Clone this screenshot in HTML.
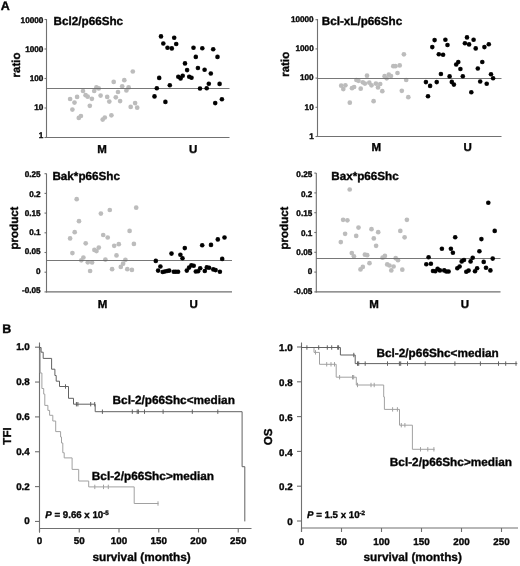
<!DOCTYPE html>
<html><head><meta charset="utf-8"><style>
html,body{margin:0;padding:0;background:#fff;}
body{width:520px;height:566px;overflow:hidden;}
svg{display:block;}
#w{width:520px;height:566px;will-change:transform;}
text{font-family:"Liberation Sans",sans-serif;font-weight:bold;fill:#000;stroke:#000;stroke-width:0.35px;text-rendering:geometricPrecision;}
</style></head><body><div id="w">
<svg width="520" height="566" viewBox="0 0 520 566">
<defs><filter id="bl" x="0" y="0" width="100%" height="100%" filterUnits="userSpaceOnUse"><feConvolveMatrix order="3" kernelMatrix="0.0000 0.0038 0.0000 0.0038 0.9847 0.0038 0.0000 0.0038 0.0000" divisor="1" edgeMode="duplicate" preserveAlpha="true"/></filter></defs>
<rect width="520" height="566" fill="#fff"/>
<g filter="url(#bl)">
<rect width="520" height="566" fill="#fff"/>
<text x="0.8" y="10" font-size="12.5" text-anchor="start" >A</text>
<line x1="46.5" y1="19" x2="46.5" y2="138.0" stroke="#6e6e6e" stroke-width="1.1" />
<line x1="46.0" y1="137.5" x2="229.5" y2="137.5" stroke="#6e6e6e" stroke-width="1.1" />
<line x1="44.5" y1="19.5" x2="46.5" y2="19.5" stroke="#6e6e6e" stroke-width="1.1" />
<text x="43.4" y="23.099999999999998" font-size="8.2" text-anchor="end" >10000</text>
<line x1="44.5" y1="49.0" x2="46.5" y2="49.0" stroke="#6e6e6e" stroke-width="1.1" />
<text x="43.4" y="51.9" font-size="8.2" text-anchor="end" >1000</text>
<line x1="44.5" y1="78.5" x2="46.5" y2="78.5" stroke="#6e6e6e" stroke-width="1.1" />
<text x="43.4" y="80.7" font-size="8.2" text-anchor="end" >100</text>
<line x1="44.5" y1="108.0" x2="46.5" y2="108.0" stroke="#6e6e6e" stroke-width="1.1" />
<text x="43.4" y="109.50000000000001" font-size="8.2" text-anchor="end" >10</text>
<line x1="44.5" y1="137.5" x2="46.5" y2="137.5" stroke="#6e6e6e" stroke-width="1.1" />
<text x="43.4" y="138.3" font-size="8.2" text-anchor="end" >1</text>
<text x="53.6" y="24.7" font-size="11.7" text-anchor="start" >Bcl2/p66Shc</text>
<text x="0" y="0" font-size="11.5" text-anchor="middle" transform="translate(19.9,65) rotate(-90)">ratio</text>
<text x="102.1" y="153.2" font-size="11.5" text-anchor="middle" >M</text>
<text x="193.1" y="153.2" font-size="11.5" text-anchor="middle" >U</text>
<circle cx="70.1" cy="99.0" r="2.35" fill="#bcbcbc"/>
<circle cx="72.4" cy="109.6" r="2.35" fill="#bcbcbc"/>
<circle cx="74.5" cy="102.6" r="2.35" fill="#bcbcbc"/>
<circle cx="77.1" cy="96.9" r="2.35" fill="#bcbcbc"/>
<circle cx="78.8" cy="117.9" r="2.35" fill="#bcbcbc"/>
<circle cx="80.9" cy="116.0" r="2.35" fill="#bcbcbc"/>
<circle cx="83.0" cy="91.0" r="2.35" fill="#bcbcbc"/>
<circle cx="85.6" cy="95.2" r="2.35" fill="#bcbcbc"/>
<circle cx="87.7" cy="96.7" r="2.35" fill="#bcbcbc"/>
<circle cx="89.8" cy="105.8" r="2.35" fill="#bcbcbc"/>
<circle cx="91.9" cy="98.8" r="2.35" fill="#bcbcbc"/>
<circle cx="94.2" cy="91.0" r="2.35" fill="#bcbcbc"/>
<circle cx="96.4" cy="87.4" r="2.35" fill="#bcbcbc"/>
<circle cx="98.7" cy="88.4" r="2.35" fill="#bcbcbc"/>
<circle cx="100.6" cy="95.6" r="2.35" fill="#bcbcbc"/>
<circle cx="102.7" cy="119.6" r="2.35" fill="#bcbcbc"/>
<circle cx="104.8" cy="117.5" r="2.35" fill="#bcbcbc"/>
<circle cx="107.2" cy="96.9" r="2.35" fill="#bcbcbc"/>
<circle cx="109.3" cy="101.6" r="2.35" fill="#bcbcbc"/>
<circle cx="111.4" cy="115.3" r="2.35" fill="#bcbcbc"/>
<circle cx="113.7" cy="81.9" r="2.35" fill="#bcbcbc"/>
<circle cx="115.8" cy="97.3" r="2.35" fill="#bcbcbc"/>
<circle cx="118.0" cy="92.0" r="2.35" fill="#bcbcbc"/>
<circle cx="120.1" cy="101.1" r="2.35" fill="#bcbcbc"/>
<circle cx="122.2" cy="86.3" r="2.35" fill="#bcbcbc"/>
<circle cx="124.3" cy="80.2" r="2.35" fill="#bcbcbc"/>
<circle cx="126.4" cy="90.5" r="2.35" fill="#bcbcbc"/>
<circle cx="128.6" cy="87.4" r="2.35" fill="#bcbcbc"/>
<circle cx="130.7" cy="106.9" r="2.35" fill="#bcbcbc"/>
<circle cx="132.8" cy="71.5" r="2.35" fill="#bcbcbc"/>
<circle cx="135.1" cy="103.1" r="2.35" fill="#bcbcbc"/>
<circle cx="137.2" cy="107.7" r="2.35" fill="#bcbcbc"/>
<line x1="46.5" y1="88.5" x2="229.5" y2="88.5" stroke="#666" stroke-width="0.9" />
<circle cx="154.5" cy="96.4" r="2.3" fill="#000"/>
<circle cx="156.8" cy="88.3" r="2.3" fill="#000"/>
<circle cx="159.2" cy="77.9" r="2.3" fill="#000"/>
<circle cx="161.0" cy="36.4" r="2.3" fill="#000"/>
<circle cx="163.3" cy="43.5" r="2.3" fill="#000"/>
<circle cx="165.4" cy="101.9" r="2.3" fill="#000"/>
<circle cx="167.5" cy="47.7" r="2.3" fill="#000"/>
<circle cx="169.8" cy="85.3" r="2.3" fill="#000"/>
<circle cx="171.8" cy="48.4" r="2.3" fill="#000"/>
<circle cx="174.2" cy="37.8" r="2.3" fill="#000"/>
<circle cx="176.2" cy="44.0" r="2.3" fill="#000"/>
<circle cx="178.3" cy="76.8" r="2.3" fill="#000"/>
<circle cx="180.6" cy="78.4" r="2.3" fill="#000"/>
<circle cx="182.7" cy="75.8" r="2.3" fill="#000"/>
<circle cx="185.0" cy="63.4" r="2.3" fill="#000"/>
<circle cx="187.1" cy="70.1" r="2.3" fill="#000"/>
<circle cx="189.2" cy="76.8" r="2.3" fill="#000"/>
<circle cx="191.5" cy="77.7" r="2.3" fill="#000"/>
<circle cx="193.5" cy="47.7" r="2.3" fill="#000"/>
<circle cx="195.8" cy="56.9" r="2.3" fill="#000"/>
<circle cx="197.9" cy="68.0" r="2.3" fill="#000"/>
<circle cx="200.0" cy="88.5" r="2.3" fill="#000"/>
<circle cx="202.3" cy="48.2" r="2.3" fill="#000"/>
<circle cx="204.6" cy="69.8" r="2.3" fill="#000"/>
<circle cx="206.7" cy="88.3" r="2.3" fill="#000"/>
<circle cx="208.8" cy="83.7" r="2.3" fill="#000"/>
<circle cx="210.8" cy="73.5" r="2.3" fill="#000"/>
<circle cx="213.2" cy="49.3" r="2.3" fill="#000"/>
<circle cx="215.2" cy="103.1" r="2.3" fill="#000"/>
<circle cx="217.5" cy="56.9" r="2.3" fill="#000"/>
<circle cx="219.6" cy="83.9" r="2.3" fill="#000"/>
<circle cx="221.9" cy="99.2" r="2.3" fill="#000"/>
<line x1="317.5" y1="19" x2="317.5" y2="137.0" stroke="#6e6e6e" stroke-width="1.1" />
<line x1="317.0" y1="136.5" x2="501.5" y2="136.5" stroke="#6e6e6e" stroke-width="1.1" />
<line x1="315.5" y1="19.700000000000003" x2="317.5" y2="19.700000000000003" stroke="#6e6e6e" stroke-width="1.1" />
<text x="313.7" y="21.9" font-size="8.2" text-anchor="end" >10000</text>
<line x1="315.5" y1="48.900000000000006" x2="317.5" y2="48.900000000000006" stroke="#6e6e6e" stroke-width="1.1" />
<text x="313.7" y="51.1" font-size="8.2" text-anchor="end" >1000</text>
<line x1="315.5" y1="78.1" x2="317.5" y2="78.1" stroke="#6e6e6e" stroke-width="1.1" />
<text x="313.7" y="80.30000000000001" font-size="8.2" text-anchor="end" >100</text>
<line x1="315.5" y1="107.3" x2="317.5" y2="107.3" stroke="#6e6e6e" stroke-width="1.1" />
<text x="313.7" y="109.5" font-size="8.2" text-anchor="end" >10</text>
<line x1="315.5" y1="136.5" x2="317.5" y2="136.5" stroke="#6e6e6e" stroke-width="1.1" />
<text x="313.7" y="138.70000000000002" font-size="8.2" text-anchor="end" >1</text>
<text x="321.7" y="24.9" font-size="11.7" text-anchor="start" >Bcl-xL/p66Shc</text>
<text x="0" y="0" font-size="11.5" text-anchor="middle" transform="translate(288.8,64.3) rotate(-90)">ratio</text>
<text x="376.4" y="151.1" font-size="11.5" text-anchor="middle" >M</text>
<text x="467.7" y="151.1" font-size="11.5" text-anchor="middle" >U</text>
<circle cx="341.2" cy="85.7" r="2.35" fill="#bcbcbc"/>
<circle cx="343.3" cy="89.1" r="2.35" fill="#bcbcbc"/>
<circle cx="345.4" cy="85.3" r="2.35" fill="#bcbcbc"/>
<circle cx="349.8" cy="102.7" r="2.35" fill="#bcbcbc"/>
<circle cx="352.0" cy="88.2" r="2.35" fill="#bcbcbc"/>
<circle cx="354.1" cy="87.0" r="2.35" fill="#bcbcbc"/>
<circle cx="356.4" cy="80.0" r="2.35" fill="#bcbcbc"/>
<circle cx="358.5" cy="80.8" r="2.35" fill="#bcbcbc"/>
<circle cx="360.7" cy="88.7" r="2.35" fill="#bcbcbc"/>
<circle cx="362.8" cy="82.3" r="2.35" fill="#bcbcbc"/>
<circle cx="364.9" cy="83.6" r="2.35" fill="#bcbcbc"/>
<circle cx="367.0" cy="75.7" r="2.35" fill="#bcbcbc"/>
<circle cx="369.3" cy="82.7" r="2.35" fill="#bcbcbc"/>
<circle cx="371.5" cy="85.3" r="2.35" fill="#bcbcbc"/>
<circle cx="373.6" cy="101.2" r="2.35" fill="#bcbcbc"/>
<circle cx="375.9" cy="83.6" r="2.35" fill="#bcbcbc"/>
<circle cx="378.0" cy="87.4" r="2.35" fill="#bcbcbc"/>
<circle cx="380.2" cy="84.0" r="2.35" fill="#bcbcbc"/>
<circle cx="382.3" cy="91.2" r="2.35" fill="#bcbcbc"/>
<circle cx="384.6" cy="76.2" r="2.35" fill="#bcbcbc"/>
<circle cx="386.7" cy="78.3" r="2.35" fill="#bcbcbc"/>
<circle cx="388.8" cy="74.7" r="2.35" fill="#bcbcbc"/>
<circle cx="391.0" cy="76.0" r="2.35" fill="#bcbcbc"/>
<circle cx="393.3" cy="66.2" r="2.35" fill="#bcbcbc"/>
<circle cx="395.4" cy="66.2" r="2.35" fill="#bcbcbc"/>
<circle cx="397.5" cy="73.0" r="2.35" fill="#bcbcbc"/>
<circle cx="399.7" cy="65.4" r="2.35" fill="#bcbcbc"/>
<circle cx="401.8" cy="90.8" r="2.35" fill="#bcbcbc"/>
<circle cx="403.9" cy="54.3" r="2.35" fill="#bcbcbc"/>
<circle cx="406.2" cy="80.0" r="2.35" fill="#bcbcbc"/>
<circle cx="408.3" cy="97.2" r="2.35" fill="#bcbcbc"/>
<line x1="317.5" y1="78.5" x2="501.5" y2="78.5" stroke="#666" stroke-width="0.9" />
<circle cx="425.9" cy="82.1" r="2.3" fill="#000"/>
<circle cx="428.0" cy="96.3" r="2.3" fill="#000"/>
<circle cx="430.1" cy="85.9" r="2.3" fill="#000"/>
<circle cx="432.3" cy="47.1" r="2.3" fill="#000"/>
<circle cx="434.6" cy="40.1" r="2.3" fill="#000"/>
<circle cx="436.7" cy="82.1" r="2.3" fill="#000"/>
<circle cx="438.8" cy="54.3" r="2.3" fill="#000"/>
<circle cx="440.9" cy="74.0" r="2.3" fill="#000"/>
<circle cx="443.1" cy="54.8" r="2.3" fill="#000"/>
<circle cx="445.4" cy="39.7" r="2.3" fill="#000"/>
<circle cx="447.5" cy="45.0" r="2.3" fill="#000"/>
<circle cx="449.6" cy="76.4" r="2.3" fill="#000"/>
<circle cx="451.8" cy="81.9" r="2.3" fill="#000"/>
<circle cx="453.9" cy="84.6" r="2.3" fill="#000"/>
<circle cx="456.2" cy="64.5" r="2.3" fill="#000"/>
<circle cx="458.3" cy="62.0" r="2.3" fill="#000"/>
<circle cx="460.4" cy="69.0" r="2.3" fill="#000"/>
<circle cx="462.8" cy="76.2" r="2.3" fill="#000"/>
<circle cx="464.9" cy="43.3" r="2.3" fill="#000"/>
<circle cx="467.0" cy="37.4" r="2.3" fill="#000"/>
<circle cx="469.1" cy="44.4" r="2.3" fill="#000"/>
<circle cx="471.3" cy="92.3" r="2.3" fill="#000"/>
<circle cx="473.6" cy="39.7" r="2.3" fill="#000"/>
<circle cx="475.7" cy="48.4" r="2.3" fill="#000"/>
<circle cx="477.8" cy="68.5" r="2.3" fill="#000"/>
<circle cx="480.2" cy="81.5" r="2.3" fill="#000"/>
<circle cx="482.3" cy="62.0" r="2.3" fill="#000"/>
<circle cx="484.4" cy="47.1" r="2.3" fill="#000"/>
<circle cx="486.7" cy="83.8" r="2.3" fill="#000"/>
<circle cx="488.8" cy="44.2" r="2.3" fill="#000"/>
<circle cx="491.0" cy="74.3" r="2.3" fill="#000"/>
<circle cx="493.1" cy="78.3" r="2.3" fill="#000"/>
<line x1="46.5" y1="173.5" x2="46.5" y2="292.4" stroke="#6e6e6e" stroke-width="1.1" />
<line x1="46.0" y1="291.9" x2="232" y2="291.9" stroke="#6e6e6e" stroke-width="1.1" />
<line x1="44.5" y1="173.7" x2="46.5" y2="173.7" stroke="#6e6e6e" stroke-width="1.1" />
<text x="40.6" y="177.3" font-size="8.2" text-anchor="end" >0.25</text>
<line x1="44.5" y1="193.39999999999998" x2="46.5" y2="193.39999999999998" stroke="#6e6e6e" stroke-width="1.1" />
<text x="40.6" y="196.55" font-size="8.2" text-anchor="end" >0.2</text>
<line x1="44.5" y1="213.09999999999997" x2="46.5" y2="213.09999999999997" stroke="#6e6e6e" stroke-width="1.1" />
<text x="40.6" y="215.8" font-size="8.2" text-anchor="end" >0.15</text>
<line x1="44.5" y1="232.79999999999998" x2="46.5" y2="232.79999999999998" stroke="#6e6e6e" stroke-width="1.1" />
<text x="40.6" y="235.05" font-size="8.2" text-anchor="end" >0.1</text>
<line x1="44.5" y1="252.49999999999997" x2="46.5" y2="252.49999999999997" stroke="#6e6e6e" stroke-width="1.1" />
<text x="40.6" y="254.3" font-size="8.2" text-anchor="end" >0.05</text>
<line x1="44.5" y1="272.2" x2="46.5" y2="272.2" stroke="#6e6e6e" stroke-width="1.1" />
<text x="40.6" y="273.54999999999995" font-size="8.2" text-anchor="end" >0</text>
<line x1="44.5" y1="291.9" x2="46.5" y2="291.9" stroke="#6e6e6e" stroke-width="1.1" />
<text x="40.6" y="292.79999999999995" font-size="8.2" text-anchor="end" >-0.05</text>
<text x="52.4" y="180.4" font-size="11.7" text-anchor="start" >Bak*p66Shc</text>
<text x="0" y="0" font-size="11.5" text-anchor="middle" transform="translate(17.6,228) rotate(-90)">product</text>
<text x="102.6" y="307.5" font-size="11.5" text-anchor="middle" >M</text>
<text x="193.7" y="307.5" font-size="11.5" text-anchor="middle" >U</text>
<circle cx="70.1" cy="238.4" r="2.35" fill="#bcbcbc"/>
<circle cx="72.4" cy="253.1" r="2.35" fill="#bcbcbc"/>
<circle cx="74.7" cy="232.2" r="2.35" fill="#bcbcbc"/>
<circle cx="76.7" cy="199.2" r="2.35" fill="#bcbcbc"/>
<circle cx="79.0" cy="221.2" r="2.35" fill="#bcbcbc"/>
<circle cx="81.3" cy="260.3" r="2.35" fill="#bcbcbc"/>
<circle cx="83.4" cy="257.5" r="2.35" fill="#bcbcbc"/>
<circle cx="85.7" cy="243.3" r="2.35" fill="#bcbcbc"/>
<circle cx="87.8" cy="262.3" r="2.35" fill="#bcbcbc"/>
<circle cx="90.1" cy="271.0" r="2.35" fill="#bcbcbc"/>
<circle cx="92.1" cy="262.5" r="2.35" fill="#bcbcbc"/>
<circle cx="94.4" cy="249.9" r="2.35" fill="#bcbcbc"/>
<circle cx="96.5" cy="251.1" r="2.35" fill="#bcbcbc"/>
<circle cx="98.8" cy="247.6" r="2.35" fill="#bcbcbc"/>
<circle cx="100.9" cy="213.6" r="2.35" fill="#bcbcbc"/>
<circle cx="103.2" cy="235.0" r="2.35" fill="#bcbcbc"/>
<circle cx="105.4" cy="259.6" r="2.35" fill="#bcbcbc"/>
<circle cx="107.7" cy="237.5" r="2.35" fill="#bcbcbc"/>
<circle cx="109.8" cy="210.0" r="2.35" fill="#bcbcbc"/>
<circle cx="112.1" cy="269.2" r="2.35" fill="#bcbcbc"/>
<circle cx="114.2" cy="245.8" r="2.35" fill="#bcbcbc"/>
<circle cx="116.5" cy="255.4" r="2.35" fill="#bcbcbc"/>
<circle cx="118.8" cy="244.2" r="2.35" fill="#bcbcbc"/>
<circle cx="120.8" cy="266.9" r="2.35" fill="#bcbcbc"/>
<circle cx="123.1" cy="263.7" r="2.35" fill="#bcbcbc"/>
<circle cx="125.4" cy="259.8" r="2.35" fill="#bcbcbc"/>
<circle cx="127.3" cy="269.2" r="2.35" fill="#bcbcbc"/>
<circle cx="129.6" cy="230.9" r="2.35" fill="#bcbcbc"/>
<circle cx="131.9" cy="269.9" r="2.35" fill="#bcbcbc"/>
<circle cx="133.9" cy="243.9" r="2.35" fill="#bcbcbc"/>
<circle cx="136.2" cy="207.7" r="2.35" fill="#bcbcbc"/>
<line x1="46.5" y1="260.5" x2="232" y2="260.5" stroke="#666" stroke-width="0.9" />
<circle cx="155.8" cy="260.9" r="2.3" fill="#000"/>
<circle cx="158.1" cy="270.6" r="2.3" fill="#000"/>
<circle cx="160.4" cy="266.5" r="2.3" fill="#000"/>
<circle cx="162.7" cy="272.0" r="2.3" fill="#000"/>
<circle cx="164.8" cy="271.5" r="2.3" fill="#000"/>
<circle cx="167.1" cy="271.0" r="2.3" fill="#000"/>
<circle cx="169.2" cy="270.6" r="2.3" fill="#000"/>
<circle cx="171.5" cy="253.6" r="2.3" fill="#000"/>
<circle cx="173.8" cy="271.7" r="2.3" fill="#000"/>
<circle cx="175.8" cy="271.7" r="2.3" fill="#000"/>
<circle cx="178.1" cy="271.7" r="2.3" fill="#000"/>
<circle cx="180.4" cy="254.7" r="2.3" fill="#000"/>
<circle cx="182.5" cy="258.2" r="2.3" fill="#000"/>
<circle cx="184.8" cy="248.1" r="2.3" fill="#000"/>
<circle cx="186.8" cy="270.6" r="2.3" fill="#000"/>
<circle cx="189.1" cy="267.6" r="2.3" fill="#000"/>
<circle cx="191.4" cy="265.3" r="2.3" fill="#000"/>
<circle cx="193.7" cy="265.8" r="2.3" fill="#000"/>
<circle cx="195.8" cy="271.5" r="2.3" fill="#000"/>
<circle cx="198.1" cy="271.3" r="2.3" fill="#000"/>
<circle cx="200.2" cy="268.3" r="2.3" fill="#000"/>
<circle cx="202.2" cy="245.3" r="2.3" fill="#000"/>
<circle cx="204.8" cy="271.0" r="2.3" fill="#000"/>
<circle cx="206.8" cy="267.4" r="2.3" fill="#000"/>
<circle cx="209.1" cy="267.8" r="2.3" fill="#000"/>
<circle cx="211.0" cy="244.9" r="2.3" fill="#000"/>
<circle cx="213.3" cy="269.4" r="2.3" fill="#000"/>
<circle cx="215.6" cy="270.1" r="2.3" fill="#000"/>
<circle cx="217.8" cy="239.4" r="2.3" fill="#000"/>
<circle cx="219.9" cy="271.7" r="2.3" fill="#000"/>
<circle cx="222.2" cy="258.9" r="2.3" fill="#000"/>
<circle cx="224.5" cy="237.5" r="2.3" fill="#000"/>
<line x1="316.3" y1="173" x2="316.3" y2="292.4" stroke="#6e6e6e" stroke-width="1.1" />
<line x1="315.8" y1="291.9" x2="500.5" y2="291.9" stroke="#6e6e6e" stroke-width="1.1" />
<line x1="314.3" y1="173.09999999999997" x2="316.3" y2="173.09999999999997" stroke="#6e6e6e" stroke-width="1.1" />
<text x="312.3" y="177.45000000000002" font-size="8.2" text-anchor="end" >0.25</text>
<line x1="314.3" y1="192.89999999999998" x2="316.3" y2="192.89999999999998" stroke="#6e6e6e" stroke-width="1.1" />
<text x="312.3" y="196.85000000000002" font-size="8.2" text-anchor="end" >0.2</text>
<line x1="314.3" y1="212.7" x2="316.3" y2="212.7" stroke="#6e6e6e" stroke-width="1.1" />
<text x="312.3" y="216.25000000000003" font-size="8.2" text-anchor="end" >0.15</text>
<line x1="314.3" y1="232.49999999999997" x2="316.3" y2="232.49999999999997" stroke="#6e6e6e" stroke-width="1.1" />
<text x="312.3" y="235.65" font-size="8.2" text-anchor="end" >0.1</text>
<line x1="314.3" y1="252.29999999999998" x2="316.3" y2="252.29999999999998" stroke="#6e6e6e" stroke-width="1.1" />
<text x="312.3" y="255.05" font-size="8.2" text-anchor="end" >0.05</text>
<line x1="314.3" y1="272.09999999999997" x2="316.3" y2="272.09999999999997" stroke="#6e6e6e" stroke-width="1.1" />
<text x="312.3" y="274.45" font-size="8.2" text-anchor="end" >0</text>
<line x1="314.3" y1="291.9" x2="316.3" y2="291.9" stroke="#6e6e6e" stroke-width="1.1" />
<text x="312.3" y="293.84999999999997" font-size="8.2" text-anchor="end" >-0.05</text>
<text x="331.2" y="179.9" font-size="11.7" text-anchor="start" >Bax*p66Shc</text>
<text x="0" y="0" font-size="11.5" text-anchor="middle" transform="translate(288.1,228) rotate(-90)">product</text>
<text x="374.1" y="307.5" font-size="11.5" text-anchor="middle" >M</text>
<text x="465" y="307.5" font-size="11.5" text-anchor="middle" >U</text>
<circle cx="340.8" cy="242.1" r="2.35" fill="#bcbcbc"/>
<circle cx="343.1" cy="219.8" r="2.35" fill="#bcbcbc"/>
<circle cx="345.1" cy="233.8" r="2.35" fill="#bcbcbc"/>
<circle cx="347.4" cy="220.3" r="2.35" fill="#bcbcbc"/>
<circle cx="349.7" cy="189.5" r="2.35" fill="#bcbcbc"/>
<circle cx="351.8" cy="253.1" r="2.35" fill="#bcbcbc"/>
<circle cx="353.9" cy="256.3" r="2.35" fill="#bcbcbc"/>
<circle cx="356.2" cy="235.9" r="2.35" fill="#bcbcbc"/>
<circle cx="358.5" cy="227.6" r="2.35" fill="#bcbcbc"/>
<circle cx="360.5" cy="269.4" r="2.35" fill="#bcbcbc"/>
<circle cx="362.8" cy="266.9" r="2.35" fill="#bcbcbc"/>
<circle cx="364.9" cy="254.7" r="2.35" fill="#bcbcbc"/>
<circle cx="367.2" cy="255.2" r="2.35" fill="#bcbcbc"/>
<circle cx="369.5" cy="263.2" r="2.35" fill="#bcbcbc"/>
<circle cx="371.5" cy="229.2" r="2.35" fill="#bcbcbc"/>
<circle cx="373.8" cy="238.4" r="2.35" fill="#bcbcbc"/>
<circle cx="376.1" cy="245.8" r="2.35" fill="#bcbcbc"/>
<circle cx="378.2" cy="232.2" r="2.35" fill="#bcbcbc"/>
<circle cx="382.6" cy="257.7" r="2.35" fill="#bcbcbc"/>
<circle cx="384.9" cy="255.9" r="2.35" fill="#bcbcbc"/>
<circle cx="387.2" cy="264.4" r="2.35" fill="#bcbcbc"/>
<circle cx="389.5" cy="265.5" r="2.35" fill="#bcbcbc"/>
<circle cx="391.3" cy="270.4" r="2.35" fill="#bcbcbc"/>
<circle cx="393.6" cy="266.5" r="2.35" fill="#bcbcbc"/>
<circle cx="395.7" cy="258.2" r="2.35" fill="#bcbcbc"/>
<circle cx="398.0" cy="260.2" r="2.35" fill="#bcbcbc"/>
<circle cx="400.3" cy="230.9" r="2.35" fill="#bcbcbc"/>
<circle cx="402.3" cy="269.7" r="2.35" fill="#bcbcbc"/>
<circle cx="404.6" cy="237.3" r="2.35" fill="#bcbcbc"/>
<circle cx="406.9" cy="219.8" r="2.35" fill="#bcbcbc"/>
<line x1="316.3" y1="258.5" x2="500.5" y2="258.5" stroke="#666" stroke-width="0.9" />
<circle cx="426.3" cy="264.2" r="2.3" fill="#000"/>
<circle cx="428.6" cy="257.3" r="2.3" fill="#000"/>
<circle cx="430.9" cy="263.7" r="2.3" fill="#000"/>
<circle cx="433.0" cy="271.0" r="2.3" fill="#000"/>
<circle cx="435.3" cy="271.3" r="2.3" fill="#000"/>
<circle cx="437.6" cy="268.7" r="2.3" fill="#000"/>
<circle cx="439.9" cy="270.4" r="2.3" fill="#000"/>
<circle cx="441.9" cy="248.8" r="2.3" fill="#000"/>
<circle cx="444.2" cy="270.4" r="2.3" fill="#000"/>
<circle cx="446.3" cy="271.5" r="2.3" fill="#000"/>
<circle cx="448.6" cy="271.5" r="2.3" fill="#000"/>
<circle cx="450.9" cy="248.8" r="2.3" fill="#000"/>
<circle cx="452.9" cy="252.7" r="2.3" fill="#000"/>
<circle cx="455.2" cy="237.3" r="2.3" fill="#000"/>
<circle cx="457.3" cy="268.3" r="2.3" fill="#000"/>
<circle cx="459.6" cy="266.5" r="2.3" fill="#000"/>
<circle cx="461.7" cy="261.4" r="2.3" fill="#000"/>
<circle cx="464.0" cy="260.0" r="2.3" fill="#000"/>
<circle cx="466.3" cy="271.7" r="2.3" fill="#000"/>
<circle cx="468.6" cy="270.6" r="2.3" fill="#000"/>
<circle cx="470.6" cy="261.4" r="2.3" fill="#000"/>
<circle cx="472.7" cy="257.7" r="2.3" fill="#000"/>
<circle cx="475.0" cy="271.3" r="2.3" fill="#000"/>
<circle cx="477.1" cy="268.3" r="2.3" fill="#000"/>
<circle cx="479.4" cy="251.3" r="2.3" fill="#000"/>
<circle cx="481.4" cy="239.1" r="2.3" fill="#000"/>
<circle cx="483.7" cy="261.9" r="2.3" fill="#000"/>
<circle cx="486.0" cy="267.8" r="2.3" fill="#000"/>
<circle cx="488.3" cy="202.8" r="2.3" fill="#000"/>
<circle cx="490.4" cy="270.4" r="2.3" fill="#000"/>
<circle cx="492.7" cy="258.6" r="2.3" fill="#000"/>
<circle cx="494.7" cy="230.9" r="2.3" fill="#000"/>
<text x="2.3" y="333.3" font-size="12.5" text-anchor="start" >B</text>
<line x1="39.5" y1="342.5" x2="39.5" y2="532.5" stroke="#6e6e6e" stroke-width="1.1" />
<line x1="39.5" y1="528.5" x2="251.5" y2="528.5" stroke="#6e6e6e" stroke-width="1.1" />
<line x1="35.0" y1="347.2" x2="39.5" y2="347.2" stroke="#6e6e6e" stroke-width="1.1" />
<text x="29.8" y="350.2" font-size="9.8" text-anchor="end" >1.0</text>
<line x1="35.0" y1="382.05" x2="39.5" y2="382.05" stroke="#6e6e6e" stroke-width="1.1" />
<text x="29.8" y="385.05" font-size="9.8" text-anchor="end" >0.8</text>
<line x1="35.0" y1="416.9" x2="39.5" y2="416.9" stroke="#6e6e6e" stroke-width="1.1" />
<text x="29.8" y="419.9" font-size="9.8" text-anchor="end" >0.6</text>
<line x1="35.0" y1="451.75" x2="39.5" y2="451.75" stroke="#6e6e6e" stroke-width="1.1" />
<text x="29.8" y="454.75" font-size="9.8" text-anchor="end" >0.4</text>
<line x1="35.0" y1="486.6" x2="39.5" y2="486.6" stroke="#6e6e6e" stroke-width="1.1" />
<text x="29.8" y="489.6" font-size="9.8" text-anchor="end" >0.2</text>
<line x1="35.0" y1="521.45" x2="39.5" y2="521.45" stroke="#6e6e6e" stroke-width="1.1" />
<text x="29.8" y="524.45" font-size="9.8" text-anchor="end" >0</text>
<line x1="39.5" y1="528.5" x2="39.5" y2="532.5" stroke="#6e6e6e" stroke-width="1.1" />
<text x="39.5" y="544.3" font-size="9.8" text-anchor="middle" >0</text>
<line x1="79.25" y1="528.5" x2="79.25" y2="532.5" stroke="#6e6e6e" stroke-width="1.1" />
<text x="79.25" y="544.3" font-size="9.8" text-anchor="middle" >50</text>
<line x1="119.0" y1="528.5" x2="119.0" y2="532.5" stroke="#6e6e6e" stroke-width="1.1" />
<text x="119.0" y="544.3" font-size="9.8" text-anchor="middle" >100</text>
<line x1="158.75" y1="528.5" x2="158.75" y2="532.5" stroke="#6e6e6e" stroke-width="1.1" />
<text x="158.75" y="544.3" font-size="9.8" text-anchor="middle" >150</text>
<line x1="198.5" y1="528.5" x2="198.5" y2="532.5" stroke="#6e6e6e" stroke-width="1.1" />
<text x="198.5" y="544.3" font-size="9.8" text-anchor="middle" >200</text>
<line x1="238.25" y1="528.5" x2="238.25" y2="532.5" stroke="#6e6e6e" stroke-width="1.1" />
<text x="238.25" y="544.3" font-size="9.8" text-anchor="middle" >250</text>
<text x="0" y="0" font-size="11.5" text-anchor="middle" transform="translate(10.6,436) rotate(-90)">TFI</text>
<text x="141.6" y="560.7" font-size="11.8" text-anchor="middle" >survival (months)</text>
<path d="M39.5,347.5 H40.2 V373 H41.9 V388.5 H43.7 V394.1 H44.8 V405.4 H47.9 V410.4 H49.6 V415.3 H52.8 V421 H55.7 V431.6 H60.6 V437 H61.5 V443 H62.8 V452.7 H64.2 V457.9 H72.1 V469.4 H78.7 V481 H88.7 V486.9 H134.2 V503.5 H158.5" fill="none" stroke="#a0a0a0" stroke-width="1"/>
<line x1="94.8" y1="484.7" x2="94.8" y2="489.09999999999997" stroke="#a0a0a0" stroke-width="1" />
<line x1="103.5" y1="484.7" x2="103.5" y2="489.09999999999997" stroke="#a0a0a0" stroke-width="1" />
<line x1="108.3" y1="484.7" x2="108.3" y2="489.09999999999997" stroke="#a0a0a0" stroke-width="1" />
<line x1="158" y1="501.3" x2="158" y2="505.7" stroke="#a0a0a0" stroke-width="1" />
<path d="M39.5,347.5 H41.1 V352.2 H43.2 V358.4 H51.6 V369.2 H54.9 V375.5 H56.2 V381.2 H59.5 V386.5 H68.5 V398.3 H73.5 V404.2 H95.2 V411.7 H242.1 V466.7 H244.8 V521.4" fill="none" stroke="#606060" stroke-width="1"/>
<line x1="39.5" y1="345.3" x2="39.5" y2="349.7" stroke="#606060" stroke-width="1" />
<line x1="65.5" y1="384.3" x2="65.5" y2="388.7" stroke="#606060" stroke-width="1" />
<line x1="76.4" y1="402.0" x2="76.4" y2="406.4" stroke="#606060" stroke-width="1" />
<line x1="77.9" y1="402.0" x2="77.9" y2="406.4" stroke="#606060" stroke-width="1" />
<line x1="90.7" y1="402.0" x2="90.7" y2="406.4" stroke="#606060" stroke-width="1" />
<line x1="94.7" y1="402.0" x2="94.7" y2="406.4" stroke="#606060" stroke-width="1" />
<line x1="102.4" y1="409.5" x2="102.4" y2="413.9" stroke="#606060" stroke-width="1" />
<line x1="132.3" y1="409.5" x2="132.3" y2="413.9" stroke="#606060" stroke-width="1" />
<line x1="137.2" y1="409.5" x2="137.2" y2="413.9" stroke="#606060" stroke-width="1" />
<line x1="138.4" y1="409.5" x2="138.4" y2="413.9" stroke="#606060" stroke-width="1" />
<line x1="144.5" y1="409.5" x2="144.5" y2="413.9" stroke="#606060" stroke-width="1" />
<line x1="163.1" y1="409.5" x2="163.1" y2="413.9" stroke="#606060" stroke-width="1" />
<line x1="192.3" y1="409.5" x2="192.3" y2="413.9" stroke="#606060" stroke-width="1" />
<line x1="217.8" y1="409.5" x2="217.8" y2="413.9" stroke="#606060" stroke-width="1" />
<text x="112.6" y="404.2" font-size="11.8" text-anchor="start" >Bcl-2/p66Shc&lt;median</text>
<text x="91.8" y="480.3" font-size="11.8" text-anchor="start" >Bcl-2/p66Shc&gt;median</text>
<text x="45.3" y="518" font-size="9.7"><tspan font-style="italic">P</tspan> = 9.66 x 10<tspan font-size="6.2" dy="-3.5">-5</tspan></text>
<line x1="301.5" y1="342.5" x2="301.5" y2="532.0" stroke="#6e6e6e" stroke-width="1.1" />
<line x1="301.5" y1="528.0" x2="518" y2="528.0" stroke="#6e6e6e" stroke-width="1.1" />
<line x1="297.0" y1="347.0" x2="301.5" y2="347.0" stroke="#6e6e6e" stroke-width="1.1" />
<text x="292.6" y="351.2" font-size="9.8" text-anchor="end" >1.0</text>
<line x1="297.0" y1="381.8" x2="301.5" y2="381.8" stroke="#6e6e6e" stroke-width="1.1" />
<text x="292.6" y="386.0" font-size="9.8" text-anchor="end" >0.8</text>
<line x1="297.0" y1="416.6" x2="301.5" y2="416.6" stroke="#6e6e6e" stroke-width="1.1" />
<text x="292.6" y="420.8" font-size="9.8" text-anchor="end" >0.6</text>
<line x1="297.0" y1="451.4" x2="301.5" y2="451.4" stroke="#6e6e6e" stroke-width="1.1" />
<text x="292.6" y="455.59999999999997" font-size="9.8" text-anchor="end" >0.4</text>
<line x1="297.0" y1="486.2" x2="301.5" y2="486.2" stroke="#6e6e6e" stroke-width="1.1" />
<text x="292.6" y="490.4" font-size="9.8" text-anchor="end" >0.2</text>
<line x1="297.0" y1="521.0" x2="301.5" y2="521.0" stroke="#6e6e6e" stroke-width="1.1" />
<text x="292.6" y="525.2" font-size="9.8" text-anchor="end" >0</text>
<line x1="301.5" y1="528.0" x2="301.5" y2="532.0" stroke="#6e6e6e" stroke-width="1.1" />
<text x="301.5" y="545.0" font-size="9.8" text-anchor="middle" >0</text>
<line x1="341.5" y1="528.0" x2="341.5" y2="532.0" stroke="#6e6e6e" stroke-width="1.1" />
<text x="341.5" y="545.0" font-size="9.8" text-anchor="middle" >50</text>
<line x1="381.5" y1="528.0" x2="381.5" y2="532.0" stroke="#6e6e6e" stroke-width="1.1" />
<text x="381.5" y="545.0" font-size="9.8" text-anchor="middle" >100</text>
<line x1="421.5" y1="528.0" x2="421.5" y2="532.0" stroke="#6e6e6e" stroke-width="1.1" />
<text x="421.5" y="545.0" font-size="9.8" text-anchor="middle" >150</text>
<line x1="461.5" y1="528.0" x2="461.5" y2="532.0" stroke="#6e6e6e" stroke-width="1.1" />
<text x="461.5" y="545.0" font-size="9.8" text-anchor="middle" >200</text>
<line x1="501.5" y1="528.0" x2="501.5" y2="532.0" stroke="#6e6e6e" stroke-width="1.1" />
<text x="501.5" y="545.0" font-size="9.8" text-anchor="middle" >250</text>
<text x="0" y="0" font-size="11.5" text-anchor="middle" transform="translate(272.4,437) rotate(-90)">OS</text>
<text x="412.7" y="560.7" font-size="11.8" text-anchor="middle" >survival (months)</text>
<path d="M301.5,347.5 H314 V352.4 H319.5 V364.3 H336.2 V377.2 H356.3 V385 H383.7 V396.9 H384.4 V409.4 H399.5 V425.2 H412.4 V449.3 H434.6" fill="none" stroke="#a0a0a0" stroke-width="1"/>
<line x1="315.5" y1="350.2" x2="315.5" y2="354.59999999999997" stroke="#a0a0a0" stroke-width="1" />
<line x1="326.7" y1="362.1" x2="326.7" y2="366.5" stroke="#a0a0a0" stroke-width="1" />
<line x1="331" y1="362.1" x2="331" y2="366.5" stroke="#a0a0a0" stroke-width="1" />
<line x1="334.5" y1="362.1" x2="334.5" y2="366.5" stroke="#a0a0a0" stroke-width="1" />
<line x1="339.6" y1="375.0" x2="339.6" y2="379.4" stroke="#a0a0a0" stroke-width="1" />
<line x1="352.5" y1="375.0" x2="352.5" y2="379.4" stroke="#a0a0a0" stroke-width="1" />
<line x1="353.7" y1="375.0" x2="353.7" y2="379.4" stroke="#a0a0a0" stroke-width="1" />
<line x1="357.5" y1="382.8" x2="357.5" y2="387.2" stroke="#a0a0a0" stroke-width="1" />
<line x1="371" y1="382.8" x2="371" y2="387.2" stroke="#a0a0a0" stroke-width="1" />
<line x1="374.2" y1="382.8" x2="374.2" y2="387.2" stroke="#a0a0a0" stroke-width="1" />
<line x1="392.6" y1="407.2" x2="392.6" y2="411.59999999999997" stroke="#a0a0a0" stroke-width="1" />
<line x1="397.4" y1="407.2" x2="397.4" y2="411.59999999999997" stroke="#a0a0a0" stroke-width="1" />
<line x1="401.3" y1="423.0" x2="401.3" y2="427.4" stroke="#a0a0a0" stroke-width="1" />
<line x1="404.9" y1="423.0" x2="404.9" y2="427.4" stroke="#a0a0a0" stroke-width="1" />
<line x1="420.5" y1="447.1" x2="420.5" y2="451.5" stroke="#a0a0a0" stroke-width="1" />
<line x1="427.8" y1="447.1" x2="427.8" y2="451.5" stroke="#a0a0a0" stroke-width="1" />
<line x1="433.9" y1="447.1" x2="433.9" y2="451.5" stroke="#a0a0a0" stroke-width="1" />
<path d="M301.5,347.5 H340.4 V355 H355.2 V363.6 H517.3" fill="none" stroke="#606060" stroke-width="1"/>
<line x1="301.5" y1="345.3" x2="301.5" y2="349.7" stroke="#606060" stroke-width="1" />
<line x1="306.9" y1="345.3" x2="306.9" y2="349.7" stroke="#606060" stroke-width="1" />
<line x1="318.7" y1="345.3" x2="318.7" y2="349.7" stroke="#606060" stroke-width="1" />
<line x1="327.3" y1="345.3" x2="327.3" y2="349.7" stroke="#606060" stroke-width="1" />
<line x1="331.7" y1="345.3" x2="331.7" y2="349.7" stroke="#606060" stroke-width="1" />
<line x1="337.7" y1="345.3" x2="337.7" y2="349.7" stroke="#606060" stroke-width="1" />
<line x1="338.6" y1="345.3" x2="338.6" y2="349.7" stroke="#606060" stroke-width="1" />
<line x1="353.8" y1="352.8" x2="353.8" y2="357.2" stroke="#606060" stroke-width="1" />
<line x1="357.5" y1="361.40000000000003" x2="357.5" y2="365.8" stroke="#606060" stroke-width="1" />
<line x1="358.7" y1="361.40000000000003" x2="358.7" y2="365.8" stroke="#606060" stroke-width="1" />
<line x1="365.2" y1="361.40000000000003" x2="365.2" y2="365.8" stroke="#606060" stroke-width="1" />
<line x1="387.5" y1="361.40000000000003" x2="387.5" y2="365.8" stroke="#606060" stroke-width="1" />
<line x1="399.4" y1="361.40000000000003" x2="399.4" y2="365.8" stroke="#606060" stroke-width="1" />
<line x1="400.7" y1="361.40000000000003" x2="400.7" y2="365.8" stroke="#606060" stroke-width="1" />
<line x1="407.5" y1="361.40000000000003" x2="407.5" y2="365.8" stroke="#606060" stroke-width="1" />
<line x1="425.2" y1="361.40000000000003" x2="425.2" y2="365.8" stroke="#606060" stroke-width="1" />
<line x1="454.9" y1="361.40000000000003" x2="454.9" y2="365.8" stroke="#606060" stroke-width="1" />
<line x1="480.4" y1="361.40000000000003" x2="480.4" y2="365.8" stroke="#606060" stroke-width="1" />
<line x1="498.5" y1="361.40000000000003" x2="498.5" y2="365.8" stroke="#606060" stroke-width="1" />
<line x1="505.7" y1="361.40000000000003" x2="505.7" y2="365.8" stroke="#606060" stroke-width="1" />
<line x1="516" y1="361.40000000000003" x2="516" y2="365.8" stroke="#606060" stroke-width="1" />
<text x="376.5" y="357" font-size="11.8" text-anchor="start" >Bcl-2/p66Shc&lt;median</text>
<text x="389.8" y="465.6" font-size="11.8" text-anchor="start" >Bcl-2/p66Shc&gt;median</text>
<text x="307" y="518" font-size="9.7"><tspan font-style="italic">P</tspan> = 1.5 x 10<tspan font-size="6.2" dy="-3.5">-2</tspan></text>
</g>
</svg></div>
</body></html>
